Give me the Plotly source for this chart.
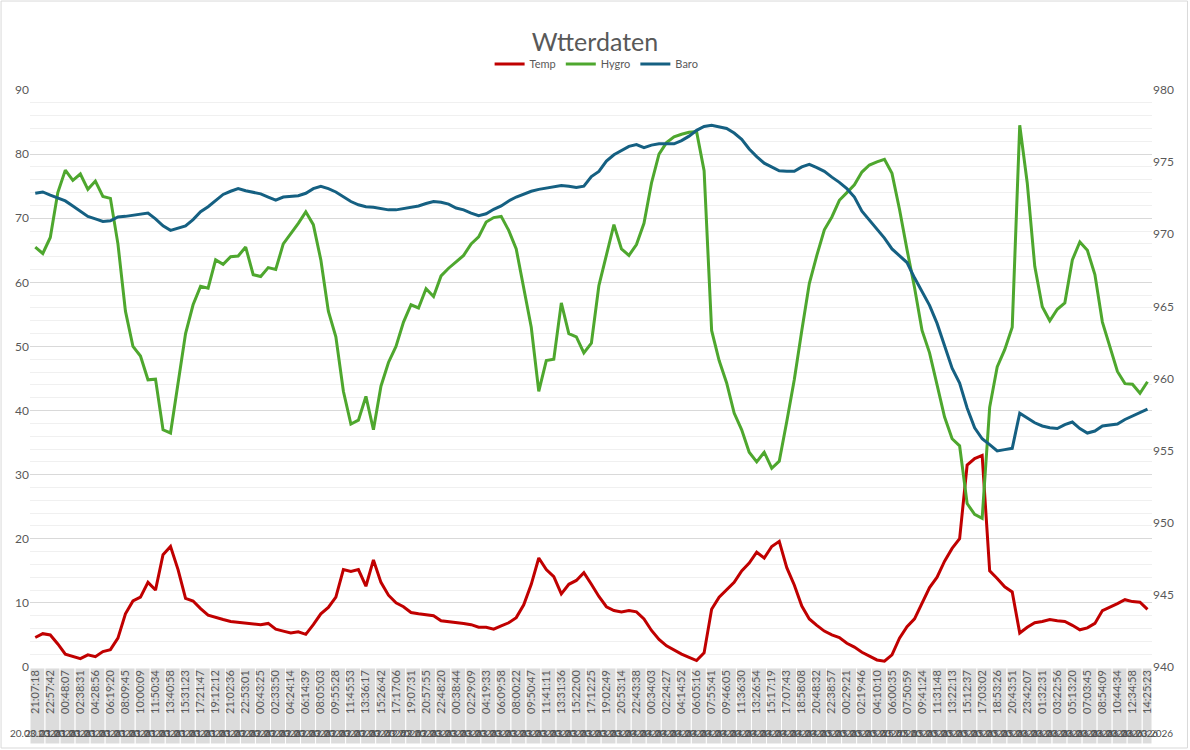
import plotly.graph_objects as go

TIME_LABELS = [
    "21:07:18", "22:57:42", "00:48:07", "02:38:31", "04:28:56", "06:19:20", "08:09:45", "10:00:09",
    "11:50:34", "13:40:58", "15:31:23", "17:21:47", "19:12:12", "21:02:36", "22:53:01", "00:43:25",
    "02:33:50", "04:24:14", "06:14:39", "08:05:03", "09:55:28", "11:45:53", "13:36:17", "15:26:42",
    "17:17:06", "19:07:31", "20:57:55", "22:48:20", "00:38:44", "02:29:09", "04:19:33", "06:09:58",
    "08:00:22", "09:50:47", "11:41:11", "13:31:36", "15:22:00", "17:12:25", "19:02:49", "20:53:14",
    "22:43:38", "00:34:03", "02:24:27", "04:14:52", "06:05:16", "07:55:41", "09:46:05", "11:36:30",
    "13:26:54", "15:17:19", "17:07:43", "18:58:08", "20:48:32", "22:38:57", "00:29:21", "02:19:46",
    "04:10:10", "06:00:35", "07:50:59", "09:41:24", "11:31:48", "13:22:13", "15:12:37", "17:03:02",
    "18:53:26", "20:43:51", "23:42:07", "01:32:31", "03:22:56", "05:13:20", "07:03:45", "08:54:09",
    "10:44:34", "12:34:58", "14:25:23",
]

DATE_LABELS = (
    ["20.03.2026"] * 2 + ["21.03.2026"] * 13 + ["22.03.2026"] * 13 + ["23.03.2026"] * 13
    + ["24.03.2026"] * 13 + ["25.03.2026"] * 13 + ["26.03.2026"] * 8
)

TEMP = [
    4.6, 5.2, 5.0, 3.6, 2.0, 1.7, 1.3, 1.9, 1.6, 2.4,
    2.7, 4.5, 8.3, 10.3, 10.9, 13.2, 12.0, 17.5, 18.8, 15.2,
    10.7, 10.3, 9.1, 8.1, 7.7, 7.4, 7.1, 7.0, 6.8, 6.8,
    6.6, 6.8, 5.9, 5.6, 5.3, 5.5, 5.1, 6.6, 8.3, 9.3,
    10.9, 15.2, 14.9, 15.2, 12.6, 16.7, 13.2, 11.2, 10.0, 9.4,
    8.5, 8.3, 8.1, 8.0, 7.2, 7.1, 7.0, 6.8, 6.6, 6.2,
    6.2, 5.9, 6.4, 6.9, 7.7, 9.7, 12.9, 17.0, 15.2, 14.1,
    11.4, 12.9, 13.5, 14.7, 12.9, 11.0, 9.4, 8.8, 8.6, 8.8,
    8.6, 7.5, 5.7, 4.3, 3.3, 2.6, 2.0, 1.5, 1.0, 2.2,
    9.0, 10.9, 12.0, 13.2, 15.0, 16.2, 17.9, 17.0, 18.8, 19.6,
    15.5, 12.8, 9.5, 7.5, 6.5, 5.6, 5.0, 4.6, 3.7, 3.1,
    2.3, 1.7, 1.1, 0.9, 1.9, 4.5, 6.3, 7.5, 10.0, 12.4,
    14.0, 16.5, 18.5, 20.0, 31.5, 32.5, 33.0, 15.0, 13.8, 12.5,
    11.7, 5.3, 6.2, 6.9, 7.1, 7.4, 7.2, 7.1, 6.5, 5.8,
    6.1, 6.8, 8.8, 9.3, 9.9, 10.5, 10.2, 10.1, 9.0,
]

HYGRO = [
    65.5, 64.5, 67.0, 74.0, 77.5, 75.9, 76.9, 74.5, 75.8, 73.4,
    73.1, 66.0, 55.5, 50.0, 48.5, 44.8, 44.9, 37.0, 36.5, 44.0,
    52.0, 56.5, 59.4, 59.1, 63.5, 62.8, 64.0, 64.1, 65.5, 61.2,
    60.9, 62.3, 62.0, 66.0, 67.6, 69.2, 71.0, 69.0, 63.5, 55.5,
    51.5, 43.0, 37.9, 38.5, 42.2, 37.0, 43.8, 47.5, 50.0, 53.8,
    56.5, 56.0, 59.0, 57.8, 61.0, 62.2, 63.2, 64.2, 66.0, 67.1,
    69.4, 70.1, 70.3, 68.1, 65.2, 58.8, 53.0, 43.0, 47.8, 48.0,
    56.8, 52.0, 51.5, 49.0, 50.5, 59.5, 64.3, 69.0, 65.2, 64.2,
    65.9, 69.2, 75.5, 80.0, 81.8, 82.7, 83.1, 83.4, 83.5, 77.4,
    52.5, 47.8, 44.3, 39.6, 37.0, 33.5, 32.0, 33.5, 31.0, 32.1,
    38.3, 44.8, 52.5, 59.8, 64.2, 68.2, 70.2, 72.8, 74.0, 75.2,
    77.2, 78.3, 78.8, 79.2, 77.0, 71.4, 65.1, 59.2, 52.5, 49.0,
    44.0, 39.0, 35.6, 34.5, 25.5, 23.8, 23.2, 40.5, 46.8, 49.5,
    53.0, 84.5, 75.5, 62.5, 56.2, 54.0, 55.8, 56.8, 63.5, 66.3,
    65.0, 61.2, 53.8, 49.8, 46.1, 44.2, 44.1, 42.7, 44.5,
]

BARO = [
    972.84, 972.93, 972.71, 972.53, 972.31, 971.96, 971.60, 971.24, 971.07, 970.89,
    970.93, 971.20, 971.24, 971.33, 971.38, 971.47, 971.07, 970.58, 970.27, 970.40,
    970.58, 971.02, 971.56, 971.91, 972.36, 972.76, 972.98, 973.16, 973.02, 972.93,
    972.80, 972.58, 972.36, 972.58, 972.62, 972.67, 972.84, 973.16, 973.33, 973.16,
    972.93, 972.62, 972.27, 972.04, 971.91, 971.87, 971.78, 971.69, 971.69, 971.78,
    971.82, 971.96, 972.13, 972.27, 972.22, 972.09, 971.82, 971.69, 971.47, 971.29,
    971.42, 971.73, 971.96, 972.31, 972.58, 972.80, 972.98, 973.11, 973.20, 973.29,
    973.38, 973.33, 973.24, 973.33, 974.00, 974.36, 975.07, 975.51, 975.78, 976.09,
    976.22, 976.00, 976.18, 976.27, 976.27, 976.27, 976.49, 976.80, 977.20, 977.47,
    977.56, 977.42, 977.33, 977.02, 976.58, 975.91, 975.38, 974.93, 974.67, 974.40,
    974.36, 974.36, 974.67, 974.84, 974.62, 974.36, 973.96, 973.60, 973.16, 972.58,
    971.60, 970.98, 970.36, 969.73, 968.98, 968.53, 968.04, 966.98, 966.00, 965.07,
    963.82, 962.22, 960.71, 959.69, 957.96, 956.58, 955.82, 955.42, 954.98, 955.07,
    955.16, 957.60, 957.29, 956.93, 956.71, 956.58, 956.53, 956.80, 956.98, 956.53,
    956.22, 956.36, 956.71, 956.76, 956.84, 957.16, 957.38, 957.60, 957.87,
]

POINTS_PER_LABEL = 2
idx = list(range(len(TEMP)))
tickvals = [i * POINTS_PER_LABEL for i in range(len(TIME_LABELS))]

FONT = "Lato, Carlito, Calibri, sans-serif"
GREY = "#595959"
X_MIN, X_MAX = -0.7, 148.6

fig = go.Figure()
fig.add_trace(go.Scatter(x=idx, y=TEMP, name="Temp", mode="lines",
                         line=dict(color="#C00000", width=3)))
fig.add_trace(go.Scatter(x=idx, y=HYGRO, name="Hygro", mode="lines",
                         line=dict(color="#4EA72E", width=3)))
fig.add_trace(go.Scatter(x=idx, y=BARO, name="Baro", mode="lines", yaxis="y2",
                         line=dict(color="#156082", width=3)))

# grey category boxes behind the axis labels
shapes = []
span = X_MAX - X_MIN
for tv in tickvals:
    a = max(tv - 0.7, X_MIN)
    b = min(tv + 1.3, X_MAX)
    shapes.append(dict(type="rect", xref="paper", yref="paper",
                       x0=(a - X_MIN) / span, x1=(b - X_MIN) / span,
                       y0=-0.1334, y1=-0.0017,
                       fillcolor="#dcdcdc", line=dict(color="white", width=1),
                       layer="below"))
# chart border
shapes.append(dict(type="rect", xref="paper", yref="paper",
                   x0=-0.0258, x1=1.0316, y0=-0.1404, y1=1.1542,
                   line=dict(color="#d9d9d9", width=1), fillcolor="rgba(0,0,0,0)",
                   layer="below"))

annotations = []
for tv, d in zip(tickvals, DATE_LABELS):
    annotations.append(dict(x=tv, y=-0.1144, xref="x", yref="paper", text=d,
                            showarrow=False, xanchor="center", yanchor="middle",
                            font=dict(family=FONT, size=10, color="#505050")))

fig.update_layout(
    width=1190, height=750,
    margin=dict(l=30, r=38, t=90, b=83),
    paper_bgcolor="white", plot_bgcolor="white",
    title=dict(text="Wtterdaten", x=0.5, xanchor="center", y=0.944, yanchor="middle",
               font=dict(family=FONT, size=25, color=GREY)),
    font=dict(family=FONT, size=12, color=GREY),
    showlegend=True,
    legend=dict(orientation="h", x=0.505, xanchor="center", y=1.045, yanchor="middle",
                font=dict(family=FONT, size=11, color=GREY), bgcolor="rgba(0,0,0,0)"),
    xaxis=dict(range=[X_MIN, X_MAX], tickmode="array", tickvals=tickvals,
               ticktext=TIME_LABELS, tickangle=-90, showgrid=False, zeroline=False,
               showline=False, ticks="", tickfont=dict(family=FONT, size=11, color=GREY)),
    yaxis=dict(range=[0, 90], dtick=10, showgrid=True, gridcolor="#d9d9d9", gridwidth=1,
               zeroline=False, showline=False, ticks="",
               minor=dict(dtick=2, showgrid=True, gridcolor="#f0f0f0", gridwidth=1),
               tickfont=dict(family=FONT, size=12, color=GREY)),
    yaxis2=dict(range=[940, 980], dtick=5, overlaying="y", side="right", showgrid=False,
                zeroline=False, showline=False, ticks="",
                tickfont=dict(family=FONT, size=12, color=GREY)),
    shapes=shapes,
    annotations=annotations,
)

fig.write_html("out.html", config={"displayModeBar": False},
               post_script="document.body.style.margin='0px';document.body.style.overflow='hidden';")
